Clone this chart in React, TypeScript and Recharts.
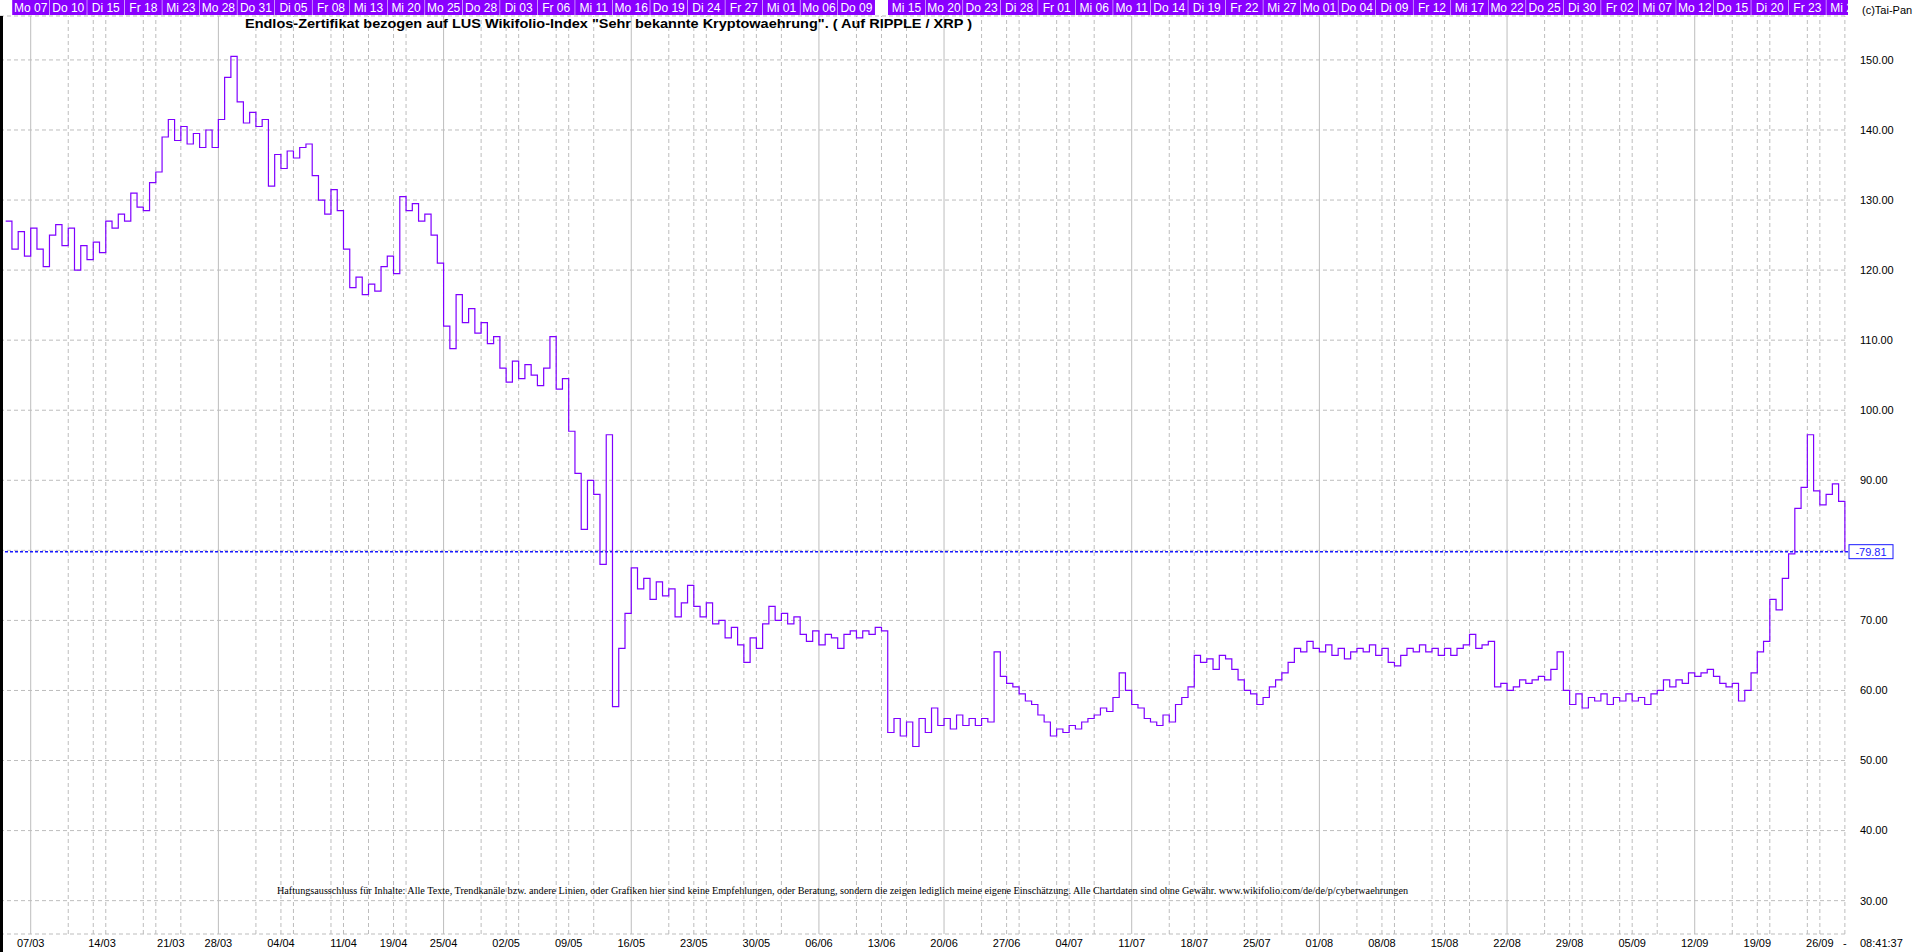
import React from "react";
import {
  LineChart,
  Line,
  XAxis,
  YAxis,
  CartesianGrid,
  ReferenceLine,
} from "recharts";

// trading-day index, 0 = Mo 07.03.
const X_MIN = -2.454;
const X_MAX = 145.25;
const Y_MIN = 25.24;
const Y_MAX = 156.27;
const PLOT_RIGHT = 1848;

const START_DAY = -2;
const STEP = 0.5;

// price every half trading day
const VALUES = [
  127.0, 123.0, 125.5, 122.0, 126.0, 123.0, 120.5, 125.0, 126.5, 123.5,
  126.0, 120.0, 123.5, 121.5, 124.0, 122.5, 127.0, 126.0, 128.0, 127.0,
  131.0, 129.0, 128.5, 132.5, 134.0, 139.0, 141.5, 138.5, 140.5, 138.0,
  139.5, 137.5, 140.0, 137.5, 141.5, 147.5, 150.5, 144.0, 141.0, 142.5,
  140.5, 141.5, 132.0, 136.5, 134.5, 137.0, 136.0, 137.5, 138.0, 133.5,
  130.0, 128.0, 131.5, 128.5, 123.0, 117.5, 119.0, 116.5, 118.0, 117.0,
  120.5, 122.0, 119.5, 130.5, 128.5, 129.5, 127.0, 128.0, 125.0, 121.0,
  112.0, 108.8, 116.5, 112.5, 114.5, 111.0, 112.5, 109.5, 110.5, 106.0,
  104.0, 107.0, 104.5, 106.5, 105.0, 103.5, 106.0, 110.5, 103.0, 104.5,
  97.0, 91.0, 83.0, 90.0, 88.0, 78.0, 96.5, 57.7, 66.0, 71.0,
  77.5, 74.5, 76.0, 73.0, 75.5, 73.5, 74.5, 70.5, 72.5, 75.0,
  72.0, 70.5, 72.5, 69.5, 70.0, 67.5, 69.0, 66.5, 64.0, 67.5,
  66.0, 69.5, 72.0, 70.0, 71.0, 69.5, 70.5, 68.0, 67.0, 68.5,
  66.5, 68.0, 67.5, 66.0, 68.0, 68.5, 67.5, 68.5, 68.0, 69.0,
  68.5, 54.0, 56.0, 53.5, 55.5, 52.0, 56.0, 54.0, 57.5, 55.0,
  56.0, 54.5, 56.5, 55.0, 56.0, 55.0, 56.0, 55.5, 65.5, 62.0,
  61.0, 60.5, 59.5, 58.5, 58.0, 56.5, 55.5, 53.5, 54.5, 54.0,
  55.0, 54.5, 55.5, 56.0, 56.5, 57.5, 57.0, 59.0, 62.5, 60.0,
  58.0, 57.5, 56.0, 55.5, 55.0, 56.5, 55.5, 58.0, 59.0, 60.5,
  65.0, 64.0, 64.5, 63.0, 65.0, 64.5, 63.0, 61.5, 60.0, 59.5,
  58.0, 59.0, 60.5, 61.5, 62.5, 64.0, 66.0, 65.5, 67.0, 66.0,
  65.5, 66.5, 65.0, 66.0, 64.5, 65.5, 66.0, 65.5, 66.5, 65.0,
  66.0, 64.0, 63.5, 65.0, 66.0, 65.5, 66.5, 65.5, 66.0, 65.0,
  66.0, 65.0, 66.0, 66.5, 68.0, 66.0, 66.5, 67.0, 60.5, 61.0,
  60.0, 60.5, 61.5, 61.0, 61.5, 62.0, 61.5, 63.0, 65.5, 60.0,
  58.0, 59.5, 57.5, 59.0, 58.5, 59.5, 58.0, 59.0, 58.5, 59.5,
  58.5, 59.0, 58.0, 59.5, 60.0, 61.5, 60.5, 61.5, 61.0, 62.5,
  62.0, 62.5, 63.0, 62.0, 61.0, 60.5, 61.0, 58.5, 60.0, 62.5,
  65.5, 67.0, 73.0, 71.5, 76.0, 79.5, 86.0, 89.0, 96.5, 88.5,
  86.5, 88.0, 89.5, 87.0, 79.81,
];
const LAST_PRICE = 79.81;

const TOP_DAYS = [
  0, 3, 6, 9, 12, 15, 18, 21, 24, 27, 30, 33, 36, 39, 42, 45, 48, 51, 54, 57,
  60, 63, 66, 70, 73, 76, 79, 82, 85, 88, 91, 94, 97, 100, 103, 106, 109, 112,
  115, 118, 121, 124, 127, 130, 133, 136, 139, 142, 145,
];
const TOP_LABELS = [
  "Mo 07", "Do 10", "Di 15", "Fr 18", "Mi 23", "Mo 28", "Do 31", "Di 05",
  "Fr 08", "Mi 13", "Mi 20", "Mo 25", "Do 28", "Di 03", "Fr 06", "Mi 11",
  "Mo 16", "Do 19", "Di 24", "Fr 27", "Mi 01", "Mo 06", "Do 09", "Mi 15",
  "Mo 20", "Do 23", "Di 28", "Fr 01", "Mi 06", "Mo 11", "Do 14", "Di 19",
  "Fr 22", "Mi 27", "Mo 01", "Do 04", "Di 09", "Fr 12", "Mi 17", "Mo 22",
  "Do 25", "Di 30", "Fr 02", "Mi 07", "Mo 12", "Do 15", "Di 20", "Fr 23",
  "Mi 28",
];

// weekly grid lines
const WEEK_DAYS = [
  0, 5, 10, 15, 20, 25, 29, 33, 38, 43, 48, 53, 58, 63, 68, 73, 78, 83, 88,
  93, 98, 103, 108, 113, 118, 123, 128, 133, 138, 143,
];
// where the week labels sit on the bottom axis
const WEEK_LABEL_DAYS = [
  0, 5.7, 11.2, 15, 20, 25, 29, 33, 38, 43, 48, 53, 58, 63, 68, 73, 78, 83,
  88, 93, 98, 103, 108, 113, 118, 123, 128, 133, 138, 143,
];
const WEEK_LABELS = [
  "07/03", "14/03", "21/03", "28/03", "04/04", "11/04", "19/04", "25/04",
  "02/05", "09/05", "16/05", "23/05", "30/05", "06/06", "13/06", "20/06",
  "27/06", "04/07", "11/07", "18/07", "25/07", "01/08", "08/08", "15/08",
  "22/08", "29/08", "05/09", "12/09", "19/09", "26/09",
];
const SOLID_DAYS = [0, 15, 33, 48, 63, 73, 88, 103, 118, 133];

const Y_TICKS = [30, 40, 50, 60, 70, 80, 90, 100, 110, 120, 130, 140, 150];

const SANS = "'Liberation Sans', Arial, sans-serif";
const LINE_COLOR = "#7f00ff";
const LABEL_BG = "#8a00ff";
const GRID = "#bdbdbd";

const data = VALUES.map((v, i) => ({ d: START_DAY + i * STEP, v }));

const gridDays = Array.from(new Set([...TOP_DAYS, ...WEEK_DAYS])).sort(
  (a, b) => a - b
);

function TopTick(props: any) {
  const { x, payload } = props;
  const label = TOP_LABELS[TOP_DAYS.indexOf(payload.value)] ?? "";
  return (
    <svg x={0} y={0} width={PLOT_RIGHT} height={16} overflow="hidden">
      <rect x={x - 18.5} y={0} width={37} height={15} fill={LABEL_BG} />
      <text
        x={x}
        y={12}
        textAnchor="middle"
        fill="#ffffff"
        fontSize={12}
        fontFamily={SANS}
      >
        {label}
      </text>
    </svg>
  );
}

function PriceTag(props: any) {
  const vb = props.viewBox || {};
  const x = (vb.x ?? 0) + (vb.width ?? 0) + 1;
  const y = vb.y ?? 0;
  return (
    <g>
      <rect
        x={x}
        y={y - 7}
        width={44}
        height={14}
        fill="#ffffff"
        stroke="#1a1aff"
        strokeWidth={1}
      />
      <text
        x={x + 22}
        y={y + 4}
        textAnchor="middle"
        fill="#1a1aff"
        fontSize={11}
        fontFamily={SANS}
      >
        {"-" + LAST_PRICE.toFixed(2)}
      </text>
    </g>
  );
}

export default function App() {
  return (
    <div
      style={{
        position: "absolute",
        left: 0,
        top: 0,
        width: 1916,
        height: 952,
        background: "#ffffff",
        overflow: "hidden",
      }}
    >
      <LineChart
        width={1916}
        height={952}
        data={data}
        margin={{ top: 0, right: 0, bottom: 0, left: 0 }}
      >
        <CartesianGrid
          xAxisId="bottom"
          yAxisId="r"
          vertical={false}
          stroke={GRID}
          strokeDasharray="4 3"
        />
        <XAxis
          xAxisId="top"
          orientation="top"
          dataKey="d"
          type="number"
          domain={[X_MIN, X_MAX]}
          allowDataOverflow
          ticks={TOP_DAYS}
          interval={0}
          height={16}
          axisLine={false}
          tickLine={false}
          tickSize={0}
          tickMargin={0}
          tick={<TopTick />}
        />
        <XAxis
          xAxisId="bottom"
          dataKey="d"
          type="number"
          domain={[X_MIN, X_MAX]}
          allowDataOverflow
          ticks={WEEK_LABEL_DAYS}
          interval={0}
          height={18}
          axisLine={false}
          tickLine={false}
          tickSize={0}
          tickMargin={5}
          tickFormatter={(v: number) =>
            WEEK_LABELS[WEEK_LABEL_DAYS.indexOf(v)] ?? ""
          }
          tick={{ fill: "#000", fontSize: 11, fontFamily: SANS }}
        />
        <YAxis
          yAxisId="r"
          orientation="right"
          type="number"
          domain={[Y_MIN, Y_MAX]}
          allowDataOverflow
          ticks={Y_TICKS}
          interval={0}
          width={68}
          axisLine={false}
          tickLine={false}
          tickSize={0}
          tickMargin={12}
          tickFormatter={(v: number) => (v === 80 ? "" : v.toFixed(2))}
          tick={{ fill: "#000", fontSize: 11, fontFamily: SANS }}
        />
        {gridDays.map((d) => (
          <ReferenceLine
            key={"g" + d}
            xAxisId="bottom"
            yAxisId="r"
            x={d}
            stroke={GRID}
            strokeWidth={1}
            strokeDasharray={SOLID_DAYS.includes(d) ? undefined : "4 3"}
          />
        ))}
        <ReferenceLine
          xAxisId="bottom"
          yAxisId="r"
          y={LAST_PRICE}
          stroke="#1a1aff"
          strokeWidth={1.5}
          strokeDasharray="3 2"
          label={<PriceTag />}
        />
        <Line
          xAxisId="bottom"
          yAxisId="r"
          dataKey="v"
          type="stepAfter"
          stroke={LINE_COLOR}
          strokeWidth={1.2}
          dot={false}
          activeDot={false}
          isAnimationActive={false}
        />
      </LineChart>
      <svg
        width={1916}
        height={952}
        style={{ position: "absolute", left: 0, top: 0, pointerEvents: "none" }}
      >
        <rect x={0} y={16} width={3} height={936} fill="#000" />
        <text
          x={245}
          y={28}
          fontSize={13.5}
          fontWeight="bold"
          fontFamily={SANS}
          fill="#000"
          textLength={727}
          lengthAdjust="spacingAndGlyphs"
        >
          {'Endlos-Zertifikat bezogen auf LUS Wikifolio-Index "Sehr bekannte Kryptowaehrung". ( Auf RIPPLE / XRP )'}
        </text>
        <text x={1862} y={14} fontSize={11} fontFamily={SANS} fill="#000">
          (c)Tai-Pan
        </text>
        <text
          x={277}
          y={894}
          fontSize={10}
          fontFamily="'Liberation Serif', 'Times New Roman', serif"
          fill="#000"
          textLength={1131}
          lengthAdjust="spacingAndGlyphs"
        >
          Haftungsausschluss für Inhalte: Alle Texte, Trendkanäle bzw. andere
          Linien, oder Grafiken hier sind keine Empfehlungen, oder Beratung,
          sondern die zeigen lediglich meine eigene Einschätzung. Alle
          Chartdaten sind ohne Gewähr. www.wikifolio.com/de/de/p/cyberwaehrungen
        </text>
        <text x={1843} y={947} fontSize={11} fontFamily={SANS} fill="#000">
          -
        </text>
        <text x={1860} y={947} fontSize={11} fontFamily={SANS} fill="#000">
          08:41:37
        </text>
      </svg>
    </div>
  );
}
